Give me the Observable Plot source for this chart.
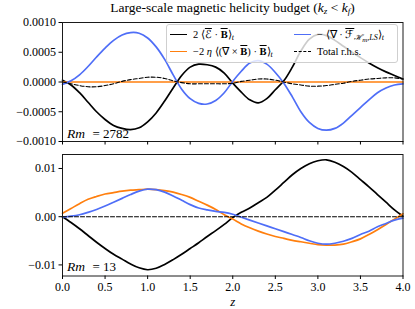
<!DOCTYPE html>
<html>
<head>
<meta charset="utf-8">
<script src="https://cdn.jsdelivr.net/npm/d3@7"></script>
<script src="https://cdn.jsdelivr.net/npm/@observablehq/plot@0.6"></script>
<style>
  html, body { margin: 0; padding: 0; background: #fff; }
  #root { position: relative; width: 415px; height: 309px; overflow: hidden; font-family: "Liberation Serif", serif; color: #000; }
  .abs { position: absolute; }
  #title { left: 62px; width: 341px; top: 0px; text-align: center; font-size: 13.5px; line-height: 15px; white-space: nowrap; }
  #title sub { font-size: 9px; vertical-align: -2px; line-height: 0; }
  #legend { left: 166px; top: 24px; width: 230px; height: 37px; border: 1px solid #cfcfcf; border-radius: 3px; background: rgba(255,255,255,0.8); }
  .sw { position: absolute; width: 17px; height: 0; }
  .lt { position: absolute; font-size: 10.5px; line-height: 12px; white-space: nowrap; }
  .ov { text-decoration: overline; text-decoration-thickness: 0.6px; }
  .lt sub { font-size: 8px; vertical-align: -2px; line-height: 0; font-style: italic; }
  .lt sub sub { font-size: 7px; vertical-align: -1.5px; }
</style>
</head>
<body>
<div id="root">
  <div id="p1" class="abs" style="left:0;top:0"></div>
  <div id="p2" class="abs" style="left:0;top:148px"></div>
  <div id="title" class="abs">Large-scale magnetic helicity budget (<i>k<sub>z</sub></i> &lt; <i>k<sub>f</sub></i>)</div>
  <div id="legend" class="abs"></div>
</div>
<script>
// ---------- data ----------
const z = [0.0,0.1,0.2,0.3,0.4,0.5,0.6,0.7,0.8,0.9,1.0,1.1,1.2,1.3,1.4,1.5,1.6,1.7,1.8,1.9,2.0,
           2.1,2.2,2.3,2.4,2.5,2.6,2.7,2.8,2.9,3.0,3.1,3.2,3.3,3.4,3.5,3.6,3.7,3.8,3.9,4.0];

// Rm = 2782 (top panel)
const emfTop = [0.00003,-0.00005,-0.00018,-0.00034,-0.00050,-0.00063,-0.00073,-0.00078,-0.00080,-0.00077,-0.00067,
                -0.00052,-0.00032,-0.00010,0.00011,0.00025,0.00030,0.00029,0.00025,0.00015,-0.00002,
                -0.00017,-0.00030,-0.00035,-0.00028,-0.00013,0.00002,0.00025,0.00052,0.00072,0.00080,
                0.00078,0.00070,0.00060,0.00050,0.00041,0.00032,0.00024,0.00017,0.00011,0.00005];
const resTop = [0.00000,0.00000,0.00000,0.00000,0.00000,0.00000,0.00000,0.00000,0.00000,0.00000,0.00000,
                0.00000,0.00000,0.00000,0.00000,0.00000,0.00000,0.00000,0.00000,0.00000,0.00000,
                0.00000,0.00000,0.00000,0.00000,0.00000,0.00000,0.00000,0.00000,0.00000,0.00000,
                0.00000,0.00000,0.00000,0.00000,0.00000,0.00000,0.00000,0.00000,0.00000,0.00000];
const fluxTop = [-0.00004,0.00002,0.00012,0.00026,0.00042,0.00057,0.00070,0.00079,0.00083,0.00082,0.00074,
                 0.00059,0.00038,0.00012,-0.00012,-0.00028,-0.00036,-0.00037,-0.00031,-0.00018,0.00001,
                 0.00018,0.00032,0.00036,0.00030,0.00016,-0.00002,-0.00025,-0.00050,-0.00068,-0.00078,
                 -0.00081,-0.00078,-0.00069,-0.00056,-0.00043,-0.00030,-0.00018,-0.00010,-0.00005,-0.00003];
const totTop = [0.00000,-0.00003,-0.00006,-0.00008,-0.00008,-0.00006,-0.00003,0.00001,0.00004,0.00006,0.00008,
                0.00008,0.00006,0.00002,-0.00001,-0.00003,-0.00003,-0.00003,-0.00003,-0.00003,-0.00002,
                0.00001,0.00003,0.00005,0.00005,0.00003,0.00000,-0.00003,-0.00005,-0.00007,-0.00007,
                -0.00006,-0.00004,-0.00002,0.00001,0.00003,0.00005,0.00006,0.00007,0.00007,0.00005];

// Rm = 13 (bottom panel)
const emfBot = [0.0000,-0.0012,-0.0025,-0.0039,-0.0053,-0.0066,-0.0078,-0.0088,-0.0098,-0.0106,-0.0110,
                -0.0107,-0.0099,-0.0089,-0.0078,-0.0066,-0.0054,-0.0041,-0.0029,-0.0016,-0.0002,
                0.0009,0.0018,0.0029,0.0040,0.0055,0.0071,0.0087,0.0100,0.0110,0.0116,
                0.0118,0.0113,0.0104,0.0092,0.0077,0.0062,0.0046,0.0030,0.0014,0.0001];
const resBot = [0.0007,0.0017,0.0027,0.0036,0.0042,0.0047,0.0050,0.0053,0.0055,0.0056,0.0057,
                0.0056,0.0054,0.0051,0.0046,0.0040,0.0032,0.0024,0.0015,0.0004,-0.0005,
                -0.0015,-0.0023,-0.0030,-0.0036,-0.0041,-0.0045,-0.0049,-0.0052,-0.0055,-0.0058,
                -0.0059,-0.0059,-0.0057,-0.0052,-0.0046,-0.0037,-0.0027,-0.0016,-0.0005,0.0006];
const fluxBot = [-0.0001,0.0001,0.0004,0.0009,0.0015,0.0022,0.0030,0.0038,0.0046,0.0053,0.0057,
                 0.0056,0.0051,0.0043,0.0034,0.0025,0.0018,0.0014,0.0011,0.0009,0.0005,
                 -0.0001,-0.0007,-0.0013,-0.0019,-0.0025,-0.0031,-0.0037,-0.0043,-0.0050,-0.0055,
                 -0.0057,-0.0055,-0.0051,-0.0045,-0.0037,-0.0030,-0.0021,-0.0014,-0.0007,-0.0003];
const totBot = [0.0000,0.0000,0.0000,0.0000,0.0000,0.0000,0.0000,0.0000,0.0000,0.0000,0.0000,
                0.0000,0.0000,0.0000,0.0000,0.0000,0.0000,0.0000,0.0000,0.0000,0.0000,
                0.0000,0.0000,0.0000,0.0000,0.0000,0.0000,0.0000,0.0000,0.0000,0.0000,
                0.0000,0.0000,0.0000,0.0000,0.0000,0.0000,0.0000,0.0000,0.0000,0.0000];

const xTicks = [0,0.5,1,1.5,2,2.5,3,3.5,4];
const yTicksTop = [-0.001,-0.0005,0,0.0005,0.001];
const yTicksBot = [-0.01,0,0.01];
const rmTop = "2782", rmBot = "13";

const colors = {emf: "#000000", res: "#ff7f0e", flux: "#4f6ef7", tot: "#000000"};
const FONT = "Liberation Serif";

// ---------- helpers ----------
const lineMarks = (emf, res, flux, tot) => [
  Plot.line(z.map((v, i) => [v, emf[i]]), {x: d => d[0], y: d => d[1], stroke: colors.emf, strokeWidth: 1.7, curve: "catmull-rom"}),
  Plot.line(z.map((v, i) => [v, res[i]]), {x: d => d[0], y: d => d[1], stroke: colors.res, strokeWidth: 1.7, curve: "catmull-rom"}),
  Plot.line(z.map((v, i) => [v, flux[i]]), {x: d => d[0], y: d => d[1], stroke: colors.flux, strokeWidth: 1.7, curve: "catmull-rom"}),
  Plot.line(z.map((v, i) => [v, tot[i]]), {x: d => d[0], y: d => d[1], stroke: colors.tot, strokeWidth: 1.1, strokeDasharray: "4,2", curve: "catmull-rom"})
];
const rmLabel = (val, dy) => [
  Plot.text(["Rm"], {frameAnchor: "bottom-left", dx: 4.5, dy, textAnchor: "start", lineAnchor: "bottom", fontStyle: "italic", fontSize: 13.5, fontFamily: FONT}),
  Plot.text(["= " + val], {frameAnchor: "bottom-left", dx: 30, dy, textAnchor: "start", lineAnchor: "bottom", fontSize: 13, fontFamily: FONT})
];
const axisFont = {fontFamily: FONT, fontSize: 12};

const plotTop = Plot.plot({
  width: 415, height: 148,
  marginLeft: 62, marginRight: 12.5, marginTop: 22, marginBottom: 7,
  style: {"font-family": FONT, "font-size": "12px", background: "transparent", overflow: "visible"},
  x: {domain: [0, 4]},
  y: {domain: [-0.001, 0.001]},
  marks: [
    ...lineMarks(emfTop, resTop, fluxTop, totTop),
    Plot.frame({stroke: "#1a1a1a", strokeWidth: 1}),
    Plot.axisX({ticks: xTicks, tickSize: 3.5, tickFormat: () => "", label: null}),
    Plot.axisY({ticks: yTicksTop, tickSize: 3.5, tickPadding: 3, tickFormat: d3.format(".4f"), label: null, ...axisFont}),
    ...rmLabel(rmTop, -3.5)
  ]
});

const plotBot = Plot.plot({
  width: 415, height: 161,
  marginLeft: 62, marginRight: 12.5, marginTop: 6, marginBottom: 33.5,
  style: {"font-family": FONT, "font-size": "12px", background: "transparent", overflow: "visible"},
  x: {domain: [0, 4]},
  y: {domain: [-0.0123, 0.0129]},
  marks: [
    ...lineMarks(emfBot, resBot, fluxBot, totBot),
    Plot.frame({stroke: "#1a1a1a", strokeWidth: 1}),
    Plot.axisX({ticks: xTicks, tickSize: 3.5, tickPadding: 3, tickFormat: d3.format(".1f"), label: null, ...axisFont}),
    Plot.axisY({ticks: yTicksBot, tickSize: 3.5, tickPadding: 3, tickFormat: d3.format(".2f"), label: null, ...axisFont}),
    Plot.text(["z"], {frameAnchor: "bottom", dy: 30, lineAnchor: "bottom", fontStyle: "italic", fontSize: 13, fontFamily: FONT}),
    ...rmLabel(rmBot, -5)
  ]
});

document.getElementById("p1").appendChild(plotTop);
document.getElementById("p2").appendChild(plotBot);

// ---------- legend ----------
const legendItems = [
  {col: 0, row: 0, color: colors.emf, dash: false, html: '2 ⟨<span class="ov">ℰ</span> · <b class="ov">B</b>⟩<sub>t</sub>'},
  {col: 0, row: 1, color: colors.res, dash: false, html: '−2 <i>η</i> ⟨(∇ × <b class="ov">B</b>) · <b class="ov">B</b>⟩<sub>t</sub>'},
  {col: 1, row: 0, color: colors.flux, dash: false, html: '− ⟨∇ · <span class="ov">ℱ</span><sub>ℋ<sub>m</sub>,LS</sub>⟩<sub>t</sub>'},
  {col: 1, row: 1, color: colors.tot, dash: true, html: 'Total r.h.s.'}
];
const leg = document.getElementById("legend");
legendItems.forEach(it => {
  const sx = it.col === 0 ? 3 : 127;
  const tx = it.col === 0 ? 26 : 150;
  const cy = it.row === 0 ? 10 : 27;
  const sw = document.createElement("div");
  sw.className = "sw";
  sw.style.left = sx + "px";
  sw.style.top = (cy - 1) + "px";
  sw.style.borderTop = (it.dash ? "1.3px dashed " : "1.7px solid ") + it.color;
  leg.appendChild(sw);
  const t = document.createElement("div");
  t.className = "lt";
  t.style.left = tx + "px";
  t.style.top = (cy - 6.5) + "px";
  t.innerHTML = it.html;
  leg.appendChild(t);
});
</script>
</body>
</html>
